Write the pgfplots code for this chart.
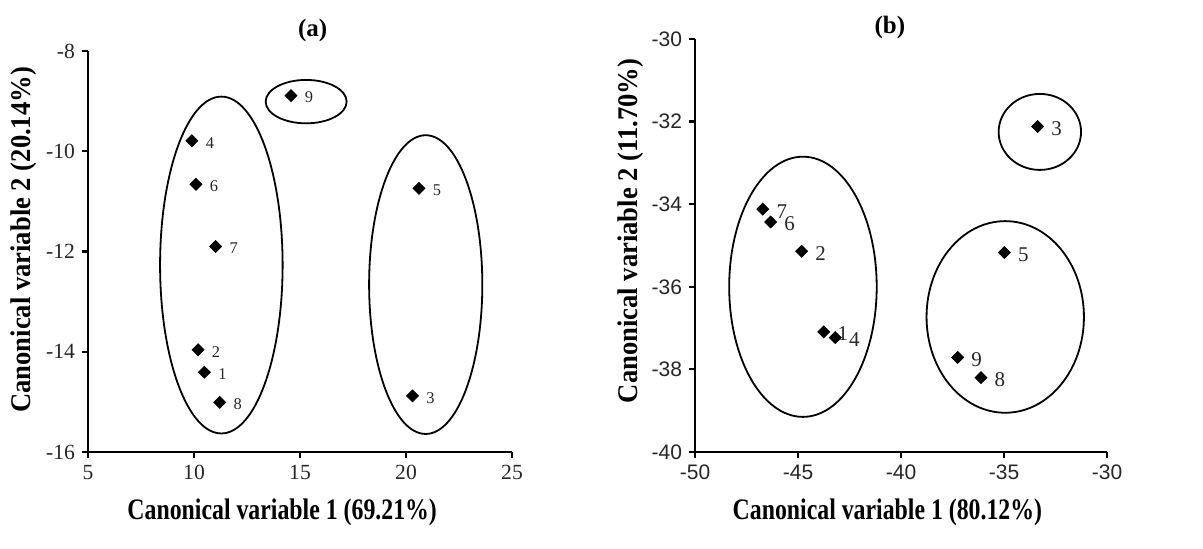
\documentclass[border=0pt]{standalone}
\usepackage{graphicx}
\usepackage{pgfplots}
\pgfplotsset{compat=1.18}
\usepackage{fontspec}
\setmainfont{Liberation Serif}
\newfontfamily\arialfont{Liberation Sans}
\newcommand{\xlab}[1]{\scalebox{1}[1.25]{\bfseries\fontsize{11.9}{13}\selectfont #1}}
\newcommand{\ylab}[1]{\scalebox{1}[1.07]{\bfseries\fontsize{13.3}{15}\selectfont #1}}
\begin{document}
\begin{tikzpicture}
\useasboundingbox (0pt,0pt) rectangle (601.5pt,274.5pt);
\pgfplotsset{
  panel/.style={
    scale only axis,
    axis x line*=bottom, axis y line*=left,
    tick align=outside, major tick length=3pt,
    axis line style={line width=1.3pt},
    every tick/.style={line width=1.1pt,black},
    /pgf/number format/assume math mode=true,
    clip=false,
    every axis title shift=0pt,
    title style={font=\bfseries\fontsize{12.5}{14}\selectfont},
  },
  pts/.style={
    only marks,
    mark=square*, mark size=2.1pt,
    mark options={rotate=45,fill=black,draw=black},
    nodes near coords, point meta=explicit symbolic,
    every node near coord/.append style={anchor=center,xshift=9.5pt,yshift=-1pt,color=black!85},
  }
}
% ---- (a)
\begin{axis}[panel,
  at={(44pt,48.5pt)}, anchor=south west,
  width=212pt, height=200.5pt,
  xmin=5, xmax=25, ymin=-16, ymax=-8,
  xtick={5,10,15,20,25}, ytick={-16,-14,-12,-10,-8},
  tick label style={font=\fontsize{10.8}{12}\selectfont, color=black!85},
  xlabel={\xlab{Canonical variable 1 (69.21\%)}},
  ylabel={\ylab{Canonical variable 2 (20.14\%)}},
  xlabel style={at={(axis description cs:0.458,-0.15)},anchor=center},
  ylabel style={at={(axis description cs:-0.152,0.529)},anchor=center},
  title={(a)}, title style={at={(axis description cs:0.53,1.052)},anchor=center},
]
\addplot[pts, every node near coord/.append style={font=\fontsize{8.2}{10}\selectfont,xshift=-0.5pt}] coordinates {
 (10.49,-14.41) [1]
 (10.19,-13.96) [2]
 (20.31,-14.88) [3]
 (9.90,-9.79) [4]
 (20.61,-10.74) [5]
 (10.09,-10.66) [6]
 (11.02,-11.90) [7]
 (11.21,-15.01) [8]
 (14.58,-8.89) [9]
};
\draw[line width=0.9pt] (axis cs:11.29,-12.27) ellipse [x radius=2.89, y radius=3.36];
\draw[line width=0.9pt] (axis cs:15.29,-9.01) ellipse [x radius=1.91, y radius=0.433];
\draw[line width=0.9pt] (axis cs:20.93,-12.66) ellipse [x radius=2.67, y radius=2.98];
\end{axis}
% ---- (b)
\begin{axis}[panel,
  at={(347.5pt,48.5pt)}, anchor=south west,
  width=206pt, height=206.5pt,
  xmin=-50, xmax=-30, ymin=-40, ymax=-30,
  xtick={-50,-45,-40,-35,-30}, ytick={-40,-38,-36,-34,-32,-30},
  tick label style={font=\arialfont\fontsize{10.5}{12}\selectfont, color=black!85},
  xlabel={\xlab{Canonical variable 1 (80.12\%)}},
  ylabel={\ylab{Canonical variable 2 (11.70\%)}},
  xlabel style={at={(axis description cs:0.467,-0.145)},anchor=center},
  ylabel style={at={(axis description cs:-0.156,0.535)},anchor=center},
  title={(b)}, title style={at={(axis description cs:0.473,1.027)},anchor=center},
]
\addplot[pts, every node near coord/.append style={font=\fontsize{10.5}{12}\selectfont}] coordinates {
 (-43.75,-37.09) [1]
 (-44.82,-35.14) [2]
 (-33.37,-32.12) [3]
 (-43.19,-37.23) [4]
 (-34.98,-35.17) [5]
 (-46.33,-34.43) [6]
 (-46.71,-34.12) [7]
 (-36.12,-38.20) [8]
 (-37.25,-37.71) [9]
};
\draw[line width=0.9pt] (axis cs:-44.76,-36.0) ellipse [x radius=3.58, y radius=3.15];
\draw[line width=0.9pt] (axis cs:-34.94,-36.73) ellipse [x radius=3.82, y radius=2.32];
\draw[line width=0.9pt] (axis cs:-33.26,-32.25) ellipse [x radius=2.0, y radius=0.92];
\end{axis}
\end{tikzpicture}
\end{document}
